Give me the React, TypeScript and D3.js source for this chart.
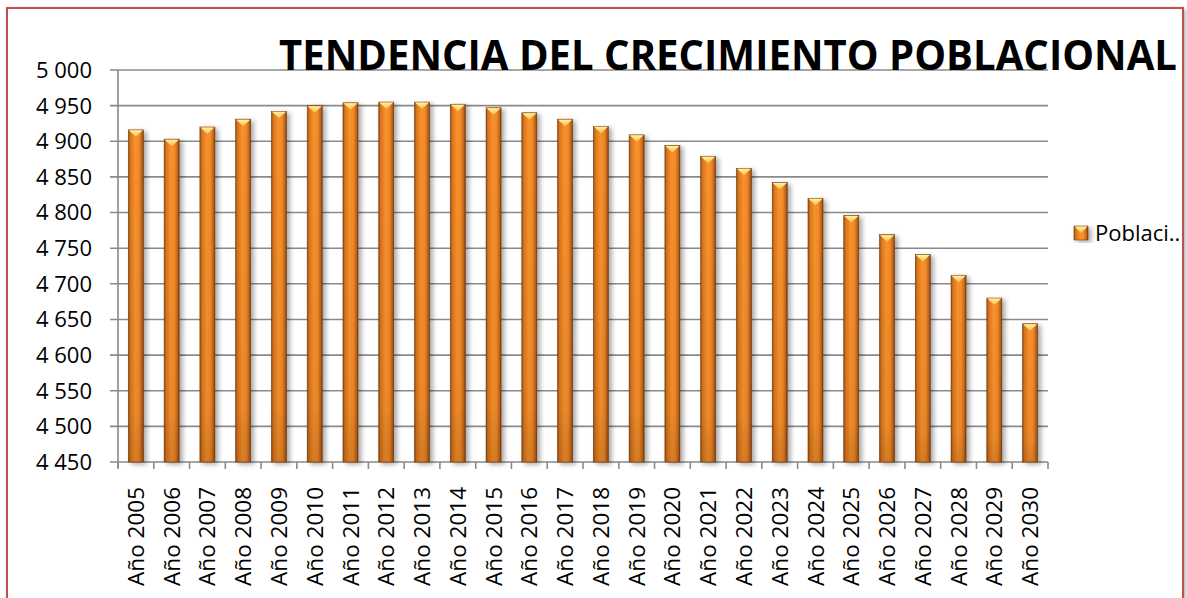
import React from "react";
import * as d3 from "d3";

const categories = [
  "Año 2005", "Año 2006", "Año 2007", "Año 2008", "Año 2009", "Año 2010",
  "Año 2011", "Año 2012", "Año 2013", "Año 2014", "Año 2015", "Año 2016",
  "Año 2017", "Año 2018", "Año 2019", "Año 2020", "Año 2021", "Año 2022",
  "Año 2023", "Año 2024", "Año 2025", "Año 2026", "Año 2027", "Año 2028",
  "Año 2029", "Año 2030",
];
const poblacion = [
  4916, 4903, 4920, 4931, 4942, 4950, 4954, 4955, 4955, 4952, 4947, 4940,
  4931, 4921, 4909, 4894, 4879, 4862, 4842, 4820, 4796, 4769, 4741, 4712,
  4680, 4644,
];
const yTicks = [4450, 4500, 4550, 4600, 4650, 4700, 4750, 4800, 4850, 4900, 4950, 5000];
const title = "TENDENCIA DEL CRECIMIENTO POBLACIONAL";
const seriesName = "Poblaci..";

const W = 1187;
const H = 598;
const left = 118;
const right = 1048;
const top = 70;
const bottom = 462;

const fmt = (v: number) => {
  const s = String(v);
  return s.length > 3 ? s.slice(0, s.length - 3) + " " + s.slice(-3) : s;
};

export default function App() {
  const x = d3.scaleBand<string>().domain(categories).range([left, right]).paddingInner(0.58).paddingOuter(0.29);
  const band = (right - left) / categories.length;
  const y = d3.scaleLinear().domain([4450, 5000]).range([bottom, top]);
  const font = "Open Sans, Liberation Sans, sans-serif";

  return (
    <svg width={W} height={H} style={{ position: "absolute", left: 0, top: 0, background: "#fff" }}>
      <defs>
        <linearGradient id="barGrad" x1="0" x2="1" y1="0" y2="0">
          <stop offset="0" stopColor="#8a4a12" />
          <stop offset="0.12" stopColor="#d8741c" />
          <stop offset="0.45" stopColor="#f8922e" />
          <stop offset="0.7" stopColor="#f28a28" />
          <stop offset="0.9" stopColor="#c0631a" />
          <stop offset="1" stopColor="#6e3a0e" />
        </linearGradient>
        <linearGradient id="barV" x1="0" x2="0" y1="0" y2="1">
          <stop offset="0" stopColor="#000" stopOpacity="0" />
          <stop offset="0.85" stopColor="#000" stopOpacity="0.05" />
          <stop offset="1" stopColor="#5a2a00" stopOpacity="0.2" />
        </linearGradient>
        <linearGradient id="capGrad" x1="0" x2="0" y1="0" y2="1">
          <stop offset="0" stopColor="#fff2a8" />
          <stop offset="1" stopColor="#f6c040" />
        </linearGradient>
        <filter id="shadow" x="-50%" y="-10%" width="200%" height="130%">
          <feGaussianBlur in="SourceAlpha" stdDeviation="2.5" />
          <feOffset dx="3" dy="2" result="b" />
          <feComponentTransfer>
            <feFuncA type="linear" slope="0.35" />
          </feComponentTransfer>
          <feMerge>
            <feMergeNode />
            <feMergeNode in="SourceGraphic" />
          </feMerge>
        </filter>
        <filter id="frameShadow" x="-5%" y="-5%" width="110%" height="110%">
          <feGaussianBlur in="SourceAlpha" stdDeviation="2" />
          <feOffset dx="2" dy="2" />
          <feComponentTransfer>
            <feFuncA type="linear" slope="0.3" />
          </feComponentTransfer>
          <feMerge>
            <feMergeNode />
            <feMergeNode in="SourceGraphic" />
          </feMerge>
        </filter>
      </defs>

      {/* frame */}
      <rect x={7} y={8} width={1176} height={600} fill="#fff" stroke="#c0504d" strokeWidth={2} filter="url(#frameShadow)" />

      {/* gridlines */}
      {yTicks.map((t) => (
        <line key={"g" + t} x1={left - 8} x2={right} y1={y(t)} y2={y(t)} stroke="#8a8a8a" strokeWidth={1.6} />
      ))}
      {/* y axis */}
      <line x1={left} x2={left} y1={top} y2={bottom + 6} stroke="#8a8a8a" strokeWidth={1.6} />
      {/* x ticks */}
      {d3.range(categories.length + 1).map((i) => (
        <line key={"xt" + i} x1={left + i * band} x2={left + i * band} y1={bottom} y2={bottom + 7} stroke="#8a8a8a" strokeWidth={1.6} />
      ))}

      {/* y labels */}
      {yTicks.map((t) => (
        <text key={"yl" + t} x={92} y={y(t)} dy="0.36em" textAnchor="end" fontFamily={font} fontSize={22} fill="#000">
          {fmt(t)}
        </text>
      ))}

      {/* bars */}
      {categories.map((c, i) => {
        const bx = x(c)!;
        const bw = x.bandwidth();
        const by = y(poblacion[i]);
        const bh = bottom - by;
        return (
          <g key={c} filter="url(#shadow)">
            <rect x={bx} y={by} width={bw} height={bh} fill="url(#barGrad)" stroke="#7a3e0c" strokeWidth={0.6} />
            <rect x={bx} y={by} width={bw} height={bh} fill="url(#barV)" />
            <polygon
              points={`${bx + 0.5},${by + 0.5} ${bx + bw - 0.5},${by + 0.5} ${bx + bw / 2},${by + 7}`}
              fill="url(#capGrad)"
            />
          </g>
        );
      })}

      {/* x labels */}
      {categories.map((c) => {
        const cx = x(c)! + x.bandwidth() / 2;
        return (
          <text
            key={"xl" + c}
            transform={`translate(${cx + 8},487) rotate(-90)`}
            textAnchor="end"
            fontFamily={font}
            fontSize={22.5}
            fill="#000"
          >
            {c}
          </text>
        );
      })}

      {/* title */}
      <text x={279} y={70} textLength={898} lengthAdjust="spacingAndGlyphs" fontFamily={font} fontWeight="bold" fontSize={42} fill="#000">
        {title}
      </text>

      {/* legend */}
      <g filter="url(#shadow)">
        <rect x={1074} y={226} width={14} height={14} fill="url(#barGrad)" stroke="#7a3e0c" strokeWidth={0.6} />
        <polygon points="1074.5,226.5 1087.5,226.5 1081,233" fill="url(#capGrad)" />
      </g>
      <text x={1095} y={233} dy="0.36em" fontFamily={font} fontSize={22} fill="#000">
        {seriesName}
      </text>
    </svg>
  );
}
